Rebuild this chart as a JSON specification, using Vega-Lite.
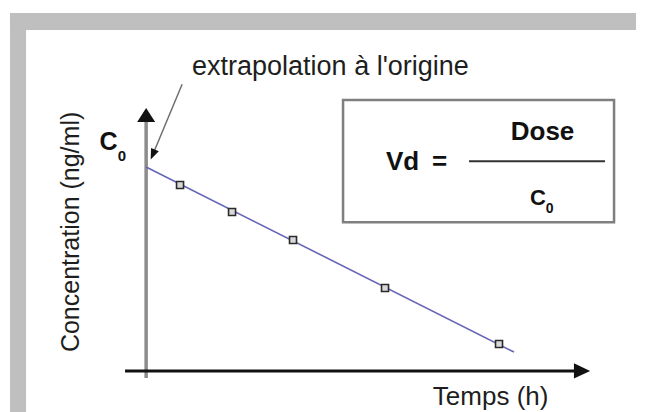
{
  "$schema": "https://vega.github.io/schema/vega-lite/v6.json",
  "width": 645,
  "height": 412,
  "padding": 0,
  "autosize": {"type": "none"},
  "background": "white",
  "config": {"view": {"stroke": null}},
  "encoding": {
    "x": {"field": "t", "type": "quantitative", "scale": {"domain": [-4.06, 13.86], "nice": false, "zero": false}, "axis": null},
    "y": {"field": "c", "type": "quantitative", "scale": {"domain": [-1.11, 10.03], "nice": false, "zero": false}, "axis": null}
  },
  "layer": [
    {
      "data": {"values": [
        {"part": "top", "t": -3.781, "t2": 13.611, "c": 9.68, "c2": 9.22},
        {"part": "left", "t": -3.781, "t2": -3.336, "c": 9.68, "c2": -1.11}
      ]},
      "mark": {"type": "rect", "color": "#bfbfbf"},
      "encoding": {"x2": {"field": "t2"}, "y2": {"field": "c2"}}
    },
    {
      "data": {"values": [{"t": 5.471, "t2": 13.0, "c": 7.325, "c2": 4.021}]},
      "mark": {"type": "rect", "fill": "white", "stroke": "#7f7f7f", "strokeWidth": 2.5},
      "encoding": {"x2": {"field": "t2"}, "y2": {"field": "c2"}}
    },
    {
      "data": {"values": [{"t": 8.971, "t2": 12.749, "c": 5.673}]},
      "mark": {"type": "rule", "color": "#333333", "strokeWidth": 2},
      "encoding": {"x2": {"field": "t2"}}
    },
    {
      "data": {"values": [{"t": 0, "c": -0.192, "c2": 6.755}]},
      "mark": {"type": "rule", "color": "#8c8c8c", "strokeWidth": 3.5},
      "encoding": {"y2": {"field": "c2"}}
    },
    {
      "data": {"values": [{"t": -0.586, "t2": 11.944, "c": 0}]},
      "mark": {"type": "rule", "color": "#111111", "strokeWidth": 3},
      "encoding": {"x2": {"field": "t2"}}
    },
    {
      "data": {"values": [{"t": 0, "c": 6.92}]},
      "mark": {"type": "point", "shape": "M-1,0.78L0,-0.78L1,0.78Z", "size": 324, "filled": true, "color": "#111111", "opacity": 1}
    },
    {
      "data": {"values": [{"t": 12.111, "c": 0}]},
      "mark": {"type": "point", "shape": "M-0.9,-0.85L0.9,0L-0.9,0.85Z", "size": 324, "filled": true, "color": "#111111", "opacity": 1}
    },
    {
      "data": {"values": [{"t": 1.0, "c": 7.75, "t2": 0.192, "c2": 5.865}]},
      "mark": {"type": "rule", "color": "#6f6f6f", "strokeWidth": 1.5},
      "encoding": {"x2": {"field": "t2"}, "y2": {"field": "c2"}}
    },
    {
      "data": {"values": [{"t": 0.192, "c": 5.865}]},
      "mark": {"type": "point", "shape": "M0,-1L0.7,0.8L-0.7,0.8Z", "size": 144, "angle": 203, "filled": true, "color": "#111111", "opacity": 1}
    },
    {
      "data": {"values": [{"t": 0, "c": 5.514}, {"t": 10.22, "c": 0.511}]},
      "mark": {"type": "line", "color": "#6666b8", "strokeWidth": 1.6}
    },
    {
      "data": {"values": [
        {"t": 0.942, "c": 5.027},
        {"t": 2.387, "c": 4.297},
        {"t": 4.081, "c": 3.54},
        {"t": 6.637, "c": 2.242},
        {"t": 9.804, "c": 0.728}
      ]},
      "mark": {"type": "point", "shape": "square", "size": 49, "filled": true, "fill": "#d8d8d8", "stroke": "#2a2a2a", "strokeWidth": 1.6, "opacity": 1}
    },
    {
      "data": {"values": [{"label": "extrapolation à l'origine", "t": 1.275, "c": 8.002}]},
      "mark": {"type": "text", "font": "Liberation Sans", "fontSize": 27, "align": "left", "baseline": "alphabetic", "color": "#1e1e1e"},
      "encoding": {"text": {"field": "label"}}
    },
    {
      "data": {"values": [{"label": "Temps (h)", "t": 7.966, "c": -0.92}]},
      "mark": {"type": "text", "font": "Liberation Sans", "fontSize": 26, "align": "left", "baseline": "alphabetic", "color": "#1e1e1e"},
      "encoding": {"text": {"field": "label"}}
    },
    {
      "data": {"values": [{"label": "Concentration (ng/ml)", "t": -1.864, "c": 3.759}]},
      "mark": {"type": "text", "font": "Liberation Sans", "fontSize": 25, "angle": 270, "align": "center", "baseline": "alphabetic", "color": "#1e1e1e"},
      "encoding": {"text": {"field": "label"}}
    },
    {
      "data": {"values": [{"label": "C", "t": -1.045, "c": 5.965}]},
      "mark": {"type": "text", "font": "Liberation Sans", "fontWeight": "bold", "fontSize": 25, "align": "center", "baseline": "alphabetic", "color": "#111111"},
      "encoding": {"text": {"field": "label"}}
    },
    {
      "data": {"values": [{"label": "0", "t": -0.67, "c": 5.676}]},
      "mark": {"type": "text", "font": "Liberation Sans", "fontWeight": "bold", "fontSize": 15, "align": "center", "baseline": "alphabetic", "color": "#111111"},
      "encoding": {"text": {"field": "label"}}
    },
    {
      "data": {"values": [
        {"label": "Vd", "t": 7.124, "c": 5.433},
        {"label": "=", "t": 8.152, "c": 5.433},
        {"label": "Dose", "t": 11.013, "c": 6.245}
      ]},
      "mark": {"type": "text", "font": "Liberation Sans", "fontWeight": "bold", "fontSize": 26, "align": "center", "baseline": "alphabetic", "color": "#111111"},
      "encoding": {"text": {"field": "label"}}
    },
    {
      "data": {"values": [{"label": "C", "t": 10.888, "c": 4.484}]},
      "mark": {"type": "text", "font": "Liberation Sans", "fontWeight": "bold", "fontSize": 22, "align": "center", "baseline": "alphabetic", "color": "#111111"},
      "encoding": {"text": {"field": "label"}}
    },
    {
      "data": {"values": [{"label": "0", "t": 11.208, "c": 4.27}]},
      "mark": {"type": "text", "font": "Liberation Sans", "fontWeight": "bold", "fontSize": 14, "align": "center", "baseline": "alphabetic", "color": "#111111"},
      "encoding": {"text": {"field": "label"}}
    }
  ]
}
